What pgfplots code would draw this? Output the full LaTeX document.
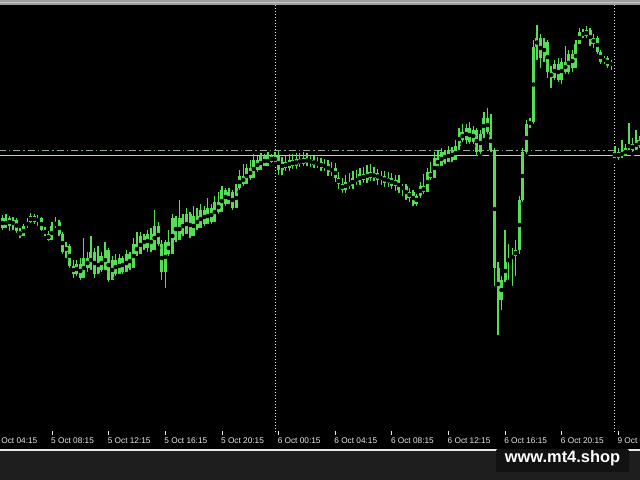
\documentclass[border=0pt]{standalone}
\usepackage{pgfplots}
\usepackage{pgfplotstable}
\pgfplotsset{compat=1.18}
\usepackage{fontspec}
\setmainfont{Liberation Sans}

\definecolor{candle}{RGB}{86,222,86}
\definecolor{strip}{RGB}{30,30,30}
\definecolor{wmbox}{RGB}{18,18,18}
\definecolor{dashline}{RGB}{150,168,150}
\definecolor{solidline}{RGB}{200,200,200}
\definecolor{labelgray}{RGB}{232,232,232}

% M15 candles, i = bar index; o h l c in price units (chart pixels from bottom)
\pgfplotstableread{
i o h l c
0 262 265 248 252
1 252 266 250 262
2 262 264 247 254
3 254 263 248 260
4 260 262 245 249
5 249 252 240 244
6 244 256 242 254
7 254 262 250 258
8 258 267 255 264
9 264 266 254 258
10 258 265 252 262
11 262 263 247 250
12 250 253 242 246
13 246 249 237 240
14 240 258 238 254
15 254 263 250 258
16 258 260 242 246
17 246 248 224 228
18 228 238 220 234
19 234 236 210 214
20 214 220 200 206
21 206 220 202 216
22 216 222 198 202
23 202 242 200 222
24 222 228 206 212
25 212 244 208 228
26 228 232 200 206
27 206 234 204 224
28 224 228 206 210
29 210 238 208 230
30 230 232 196 200
31 200 224 198 220
32 220 226 202 206
33 206 226 204 222
34 222 224 204 208
35 208 230 206 226
36 226 228 208 212
37 212 242 210 236
38 236 248 222 226
39 226 248 224 244
40 244 246 228 232
41 232 250 226 246
42 246 252 226 230
43 230 270 228 254
44 254 258 232 236
45 236 240 198 208
46 208 240 190 238
47 238 250 222 226
48 226 266 224 262
49 262 264 236 240
50 240 280 238 262
51 262 266 242 246
52 246 272 244 266
53 266 268 240 244
54 244 274 242 264
55 264 272 248 252
56 252 276 250 270
57 270 274 252 256
58 256 282 254 272
59 272 276 254 258
60 258 284 256 278
61 278 288 264 268
62 268 294 266 290
63 290 292 272 276
64 276 292 274 288
65 288 290 268 272
66 272 296 270 292
67 292 310 288 304
68 304 316 292 296
69 296 316 294 312
70 312 320 298 302
71 302 326 300 320
72 320 324 306 310
73 310 327 308 324
74 324 326 312 314
75 314 328 312 324
76 324 326 315 318
77 318 328 316 324
78 324 329 303 310
79 310 323 303 318
80 318 324 307 312
81 312 326 307 320
82 320 326 309 314
83 314 327 309 321
84 321 327 311 316
85 316 328 312 322
86 322 327 312 317
87 317 325 311 320
88 320 324 310 315
89 315 323 310 318
90 318 322 307 312
91 312 321 307 316
92 316 320 302 308
93 308 318 302 312
94 312 317 296 302
95 302 308 289 296
96 296 302 285 290
97 290 305 285 298
98 298 307 289 294
99 294 309 289 302
100 302 310 293 298
101 298 312 293 306
102 306 313 295 300
103 300 315 295 308
104 308 316 297 302
105 302 313 297 307
106 307 311 293 300
107 300 309 293 304
108 304 309 291 297
109 297 308 291 302
110 302 307 289 294
111 294 305 287 300
112 300 305 285 290
113 290 296 282 294
114 294 296 278 282
115 282 292 276 288
116 288 290 272 276
117 276 286 272 284
118 284 298 280 294
119 294 306 284 288
120 288 312 286 308
121 308 318 298 302
122 302 328 300 322
123 322 330 312 314
124 314 332 312 328
125 328 330 314 318
126 318 334 316 330
127 330 333 316 320
128 320 340 318 334
129 334 352 328 348
130 348 356 336 340
131 340 356 334 352
132 352 358 334 338
133 338 354 334 350
134 350 352 322 328
135 328 350 324 346
136 346 368 340 362
137 362 372 344 348
138 348 366 326 330
139 330 332 192 212
140 212 218 143 180
141 180 204 168 200
142 200 250 196 218
143 218 236 198 222
144 222 232 192 224
145 224 240 202 230
146 230 284 224 280
147 280 332 276 328
148 328 360 324 356
149 356 362 350 358
150 358 440 354 433
151 433 455 418 442
152 442 446 410 422
153 422 442 416 438
154 438 440 400 408
155 408 414 390 402
156 402 420 398 416
157 416 422 396 400
158 400 422 394 418
159 418 434 404 408
160 408 430 404 426
161 426 430 406 412
162 412 440 410 436
163 436 452 434 448
164 448 451 440 444
165 444 454 440 450
166 450 452 432 436
167 436 446 430 442
168 442 444 424 428
169 428 430 414 418
170 418 424 414 422
171 422 424 410 414
172 414 420 408 418
173 328 334 320 322
174 322 332 318 328
175 328 340 320 324
176 324 336 322 332
177 332 357 328 336
178 336 342 326 330
179 330 350 328 340
180 340 344 330 334
}\candles

\begin{document}
\begin{tikzpicture}
\path[use as bounding box, clip] (0,0) rectangle (640bp,480bp);
\fill[black] (0,0) rectangle (640bp,480bp);

\begin{axis}[
  at={(0,0)}, anchor=south west,
  scale only axis, width=640bp, height=480bp,
  xmin=-0.684, xmax=180.1,
  ymin=0, ymax=480,
  hide axis, clip=false,
]
% price lines
\draw[dashline, line width=1bp, dash pattern=on 7bp off 3bp on 1.5bp off 3bp]
  (axis cs:-1,329) -- (axis cs:181,329);
\draw[solidline, line width=1.2bp] (axis cs:-1,324.5) -- (axis cs:181,324.5);
% day separators
\draw[labelgray, line width=1bp, dash pattern=on 1.5bp off 1.5bp]
  (axis cs:77,475) -- (axis cs:77,48);
\draw[labelgray, line width=1bp, dash pattern=on 1.5bp off 1.5bp]
  (axis cs:173,475) -- (axis cs:173,48);

% wicks
\addplot[only marks, mark=none, forget plot,
  error bars/.cd, y dir=plus, y explicit, error mark=none,
  error bar style={draw=candle, line width=1.3bp}]
  table[x=i, y=l, y error expr=\thisrow{h}-\thisrow{l}] {\candles};
% bodies
\addplot[only marks, mark=none, forget plot,
  error bars/.cd, y dir=both, y explicit, error mark=none,
  error bar style={draw=candle, line width=3bp}]
  table[x=i, y expr={(\thisrow{o}+\thisrow{c})/2},
        y error expr={max(abs(\thisrow{c}-\thisrow{o})/2,0.8)}] {\candles};

% time scale
\foreach \t/\lab in {-2/5 Oct 04:15, 14/5 Oct 08:15, 30/5 Oct 12:15,
  46/5 Oct 16:15, 62/5 Oct 20:15, 78/6 Oct 00:15, 94/6 Oct 04:15,
  110/6 Oct 08:15, 126/6 Oct 12:15, 142/6 Oct 16:15, 158/6 Oct 20:15,
  174/9 Oct 00:15} {
  \edef\temp{\noexpand\draw[labelgray, line width=0.8bp] (axis cs:\t,49) -- (axis cs:\t,45);
    \noexpand\node[anchor=base west, inner sep=0pt, xshift=-1bp, text=labelgray,
      font=\noexpand\fontsize{8.3}{9}\noexpand\selectfont] at (axis cs:\t,37) {\lab};}
  \temp
}
\end{axis}

% window frame
\fill[gray!75] (0,475.3bp) rectangle (640bp,480bp);
\draw[gray!45, line width=1bp] (0,477.8bp) -- (640bp,477.8bp);
\fill[strip] (0,0) rectangle (640bp,30bp);
\draw[labelgray, line width=1.5bp] (0,30bp) -- (640bp,30bp);
% watermark
\fill[wmbox, rounded corners=2bp] (496bp,8bp) rectangle (629bp,31bp);
\node[anchor=base, inner sep=0pt, text=white,
  font=\fontsize{16.5}{18}\selectfont\bfseries] at (562.5bp,18bp) {www.mt4.shop};
\end{tikzpicture}
\end{document}
